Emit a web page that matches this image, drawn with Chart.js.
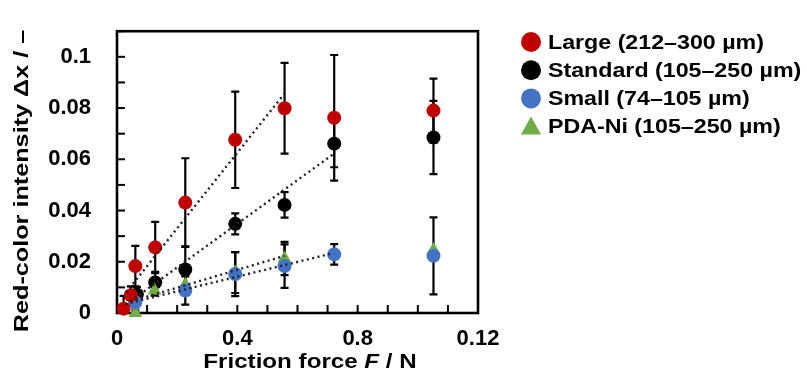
<!DOCTYPE html>
<html>
<head>
<meta charset="utf-8">
<script src="https://cdn.jsdelivr.net/npm/chart.js@4.4.0/dist/chart.umd.min.js"></script>
<style>
    html, body { margin: 0; padding: 0; background: #fff; }
    #wrap { width: 807px; height: 373px; position: relative; }
</style>
</head>
<body>
<div id="wrap"><canvas id="chart"></canvas></div>
<script>
// ====== DATA ======
const seriesNames = ['Large (212–300 µm)', 'Standard (105–250 µm)', 'Small (74–105 µm)', 'PDA-Ni (105–250 µm)'];
const seriesColors = ['#C00000', '#000000', '#4472C4', '#70AD47'];

const largeX = [0.022, 0.046, 0.061, 0.127, 0.227, 0.393, 0.557, 0.722, 1.052];
const largeY = [0.0017, 0.0069, 0.0183, 0.0256, 0.0431, 0.0676, 0.0799, 0.0762, 0.0790];
const largeErr = [0.005, 0.0035, 0.0079, 0.0100, 0.0173, 0.0188, 0.0177, 0.0245, 0.0125];

const standardX = [0.066, 0.127, 0.227, 0.393, 0.557, 0.722, 1.052];
const standardY = [0.0072, 0.0119, 0.0170, 0.0348, 0.0422, 0.0661, 0.0685];
const standardErr = [0.0030, 0.0042, 0.0090, 0.0041, 0.0050, 0.0092, 0.0143];

const smallX = [0.061, 0.227, 0.393, 0.557, 0.722, 1.052];
const smallY = [0.0042, 0.0088, 0.0152, 0.0183, 0.0229, 0.0223];
const smallErr = [0.0020, 0.0055, 0.0086, 0.0085, 0.0040, 0.0150];

const pdaX = [0.061, 0.125, 0.227, 0.393, 0.557, 1.052];
const pdaY = [0.0000, 0.0088, 0.0111, 0.0158, 0.0213, 0.0246];
const pdaErr = [0.0010, 0.0020, 0.0040, 0.0080, 0.0065, 0];

// dotted fit lines (end points)
const largeFitX = [0.03, 0.557];
const largeFitY = [0.008, 0.0857];
const standardFitX = [0.03, 0.72];
const standardFitY = [0.0033, 0.0621];
const smallFitX = [0.045, 0.72];
const smallFitY = [0.004, 0.0234];
const pdaFitX = [0.045, 0.557];
const pdaFitY = [0.0045, 0.0223];

// axis ticks
const xTickValues = [0, 0.4, 0.8, 1.2];
const xTickLabels = ['0', '0.4', '0.8', '0.12'];
const yTickValues = [0, 0.02, 0.04, 0.06, 0.08, 0.1];
const yTickLabels = ['0', '0.02', '0.04', '0.06', '0.08', '0.1'];

const FONT = "'Liberation Sans', Arial, sans-serif";

function toPoints(xs, ys) {
    return xs.map((x, i) => ({ x: x, y: ys[i] }));
}

function findLabel(values, labels, v) {
    const idx = values.findIndex(t => Math.abs(t - v) < 1e-9);
    return idx >= 0 ? labels[idx] : '';
}

function pointSet(i, xs, ys, errs, style, order) {
    return {
        label: seriesNames[i],
        data: toPoints(xs, ys),
        errors: errs,
        showLine: false,
        pointStyle: style,
        pointRadius: style === 'triangle' ? 8 : 7,
        pointBackgroundColor: seriesColors[i],
        pointBorderColor: seriesColors[i],
        pointBorderWidth: 0,
        order: order,
        clip: false
    };
}

function fitSet(xs, ys) {
    return {
        type: 'line',
        data: toPoints(xs, ys),
        borderColor: '#222',
        borderWidth: 2.4,
        borderDash: [2, 3.5],
        pointRadius: 0,
        fill: false,
        order: 0
    };
}

// Draw run of text pieces (some italic) centred at 0,0, widened by sx
function drawRuns(ctx, runs, size, sx, align) {
    const fontOf = r => `${r.italic ? 'italic ' : ''}bold ${size}px ${FONT}`;
    let total = 0;
    runs.forEach(r => { ctx.font = fontOf(r); total += ctx.measureText(r.t).width; });
    ctx.scale(sx, 1);
    let x = align === 'left' ? 0 : -total / 2;
    ctx.textBaseline = 'middle';
    ctx.textAlign = 'left';
    runs.forEach(r => {
        ctx.font = fontOf(r);
        ctx.fillText(r.t, x, 0);
        x += ctx.measureText(r.t).width;
    });
}

const decorPlugin = {
    id: 'decor',
    beforeDatasetsDraw(chart) {
        const ctx = chart.ctx;
        const a = chart.chartArea;
        const xs = chart.scales.x;
        const ys = chart.scales.y;
        ctx.save();
        ctx.strokeStyle = '#000';
        // frame
        ctx.lineWidth = 2.6;
        ctx.strokeRect(a.left, a.top, a.right - a.left, a.bottom - a.top);
        // inner tick marks
        ctx.lineWidth = 2;
        xs.ticks.forEach(t => {
            const px = xs.getPixelForValue(t.value);
            ctx.beginPath();
            ctx.moveTo(px, a.bottom);
            ctx.lineTo(px, a.bottom - 8);
            ctx.stroke();
        });
        ys.ticks.forEach(t => {
            const py = ys.getPixelForValue(t.value);
            ctx.beginPath();
            ctx.moveTo(a.left, py);
            ctx.lineTo(a.left + 8, py);
            ctx.stroke();
        });
        // error bars
        ctx.lineWidth = 2.2;
        chart.data.datasets.forEach(ds => {
            if (!ds.errors) return;
            ds.data.forEach((p, i) => {
                const e = ds.errors[i];
                if (!e) return;
                const px = xs.getPixelForValue(p.x);
                const top = ys.getPixelForValue(p.y + e);
                const bot = ys.getPixelForValue(Math.max(p.y - e, 0));
                ctx.beginPath();
                ctx.moveTo(px, top);
                ctx.lineTo(px, bot);
                ctx.moveTo(px - 4, top);
                ctx.lineTo(px + 4, top);
                if (p.y - e >= 0) {
                    ctx.moveTo(px - 4, bot);
                    ctx.lineTo(px + 4, bot);
                }
                ctx.stroke();
            });
        });
        ctx.restore();
    },
    afterDraw(chart) {
        const ctx = chart.ctx;
        ctx.save();
        ctx.fillStyle = '#000';
        // y axis title
        ctx.save();
        ctx.translate(22, 181);
        ctx.rotate(-Math.PI / 2);
        drawRuns(ctx, [{ t: 'Red-color intensity Δx / –' }], 21, 1.2);
        ctx.restore();
        // x axis title
        ctx.save();
        ctx.translate(310, 362);
        drawRuns(ctx, [{ t: 'Friction force ' }, { t: 'F', italic: true }, { t: ' / N' }], 21, 1.15);
        ctx.restore();
        // legend
        const styles = ['circle', 'circle', 'circle', 'triangle'];
        seriesNames.forEach((name, i) => {
            const cy = 42 + i * 28.2;
            const cx = 531;
            ctx.fillStyle = seriesColors[i];
            ctx.beginPath();
            if (styles[i] === 'triangle') {
                ctx.moveTo(cx, cy - 10);
                ctx.lineTo(cx + 10, cy + 8);
                ctx.lineTo(cx - 10, cy + 8);
                ctx.closePath();
            } else {
                ctx.arc(cx, cy, 10, 0, Math.PI * 2);
            }
            ctx.fill();
            ctx.fillStyle = '#000';
            ctx.save();
            ctx.translate(548, cy + 1);
            drawRuns(ctx, [{ t: name }], 21, 1.105, 'left');
            ctx.restore();
        });
        ctx.restore();
    }
};

const ctx = document.getElementById('chart').getContext('2d');
const myChart = new Chart(ctx, {
    type: 'scatter',
    data: {
        datasets: [
            fitSet(largeFitX, largeFitY),
            fitSet(standardFitX, standardFitY),
            fitSet(smallFitX, smallFitY),
            fitSet(pdaFitX, pdaFitY),
            pointSet(0, largeX, largeY, largeErr, 'circle', 1),
            pointSet(1, standardX, standardY, standardErr, 'circle', 4),
            pointSet(2, smallX, smallY, smallErr, 'circle', 2),
            pointSet(3, pdaX, pdaY, pdaErr, 'triangle', 3)
        ]
    },
    options: {
        responsive: true,
        maintainAspectRatio: false,
        animation: false,
        layout: { padding: { left: 0, right: 329, top: 13, bottom: 0 } },
        plugins: {
            legend: { display: false },
            tooltip: { enabled: false }
        },
        scales: {
            x: {
                type: 'linear',
                min: 0,
                max: 1.2,
                grid: { display: false },
                border: { display: false },
                afterFit: s => { s.height = 60; },
                ticks: {
                    stepSize: 0.1,
                    autoSkip: false,
                    maxRotation: 0,
                    padding: 5,
                    color: '#000',
                    font: { family: FONT, size: 22, weight: 'bold' },
                    callback: v => findLabel(xTickValues, xTickLabels, v)
                }
            },
            y: {
                type: 'linear',
                min: 0,
                max: 0.11,
                grid: { display: false },
                border: { display: false },
                afterFit: s => { s.width = 117; },
                ticks: {
                    stepSize: 0.01,
                    autoSkip: false,
                    padding: 18,
                    color: '#000',
                    font: { family: FONT, size: 22, weight: 'bold' },
                    callback: v => findLabel(yTickValues, yTickLabels, v)
                }
            }
        }
    },
    plugins: [decorPlugin]
});
</script>
</body>
</html>
